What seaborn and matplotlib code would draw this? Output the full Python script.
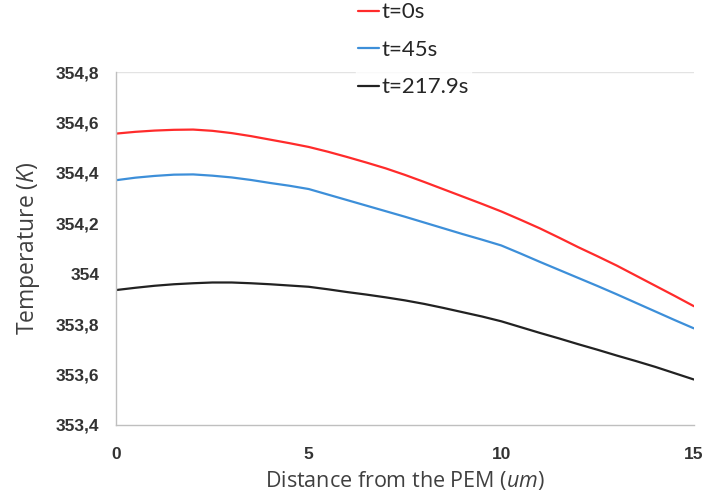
import matplotlib
matplotlib.use('Agg')
import matplotlib.pyplot as plt
import seaborn as sns
import pandas as pd
from matplotlib.ticker import FuncFormatter

# Data
distance = [0, 0.5, 1, 1.5, 2, 2.5, 3, 3.5, 4, 4.5, 5, 5.5, 6, 6.5, 7, 7.5,
            8, 8.5, 9, 9.5, 10, 10.5, 11, 11.5, 12, 12.5, 13, 13.5, 14, 14.5, 15]
temp_0s = [354.556, 354.563, 354.568, 354.571, 354.572, 354.567, 354.558, 354.546,
           354.532, 354.518, 354.503, 354.484, 354.463, 354.441, 354.418, 354.392,
           354.364, 354.335, 354.306, 354.277, 354.247, 354.214, 354.180, 354.143,
           354.105, 354.069, 354.032, 353.992, 353.952, 353.912, 353.871]
temp_45s = [354.371, 354.381, 354.388, 354.393, 354.394, 354.389, 354.382, 354.372,
            354.360, 354.349, 354.336, 354.314, 354.292, 354.270, 354.248, 354.226,
            354.203, 354.180, 354.157, 354.135, 354.112, 354.080, 354.047, 354.015,
            353.983, 353.951, 353.918, 353.884, 353.850, 353.816, 353.783]
temp_217s = [353.935, 353.944, 353.952, 353.958, 353.962, 353.965, 353.965, 353.962,
             353.958, 353.953, 353.948, 353.938, 353.927, 353.917, 353.906, 353.894,
             353.880, 353.864, 353.847, 353.830, 353.811, 353.788, 353.765, 353.743,
             353.720, 353.698, 353.675, 353.653, 353.630, 353.605, 353.580]
series_labels = ['t=0s', 't=45s', 't=217.9s']
series_colors = ['#ff2b2b', '#3d8fd9', '#222222']

df = pd.concat([
    pd.DataFrame({'Distance': distance, 'Temperature': vals, 'Time': lab})
    for vals, lab in zip([temp_0s, temp_45s, temp_217s], series_labels)
])

sns.set_style('white')
plt.rcParams['font.family'] = ['Open Sans', 'DejaVu Sans']
plt.rcParams['mathtext.fontset'] = 'custom'
plt.rcParams['mathtext.it'] = 'Open Sans:italic'
plt.rcParams['mathtext.rm'] = 'Open Sans'

fig = plt.figure(figsize=(7.08, 4.94), dpi=100)
ax = fig.add_axes([0.164, 0.140, 0.816, 0.714])

sns.lineplot(data=df, x='Distance', y='Temperature', hue='Time',
             palette=dict(zip(series_labels, series_colors)), linewidth=1.6, ax=ax)

# light top gridline (Excel style)
ax.axhline(354.8, color='#e3e3e3', linewidth=1, zorder=0)

ax.set_xlim(0, 15)
ax.set_ylim(353.4, 354.8)
ax.set_xticks([0, 5, 10, 15])
ax.set_yticks([353.4, 353.6, 353.8, 354.0, 354.2, 354.4, 354.6, 354.8])
ax.yaxis.set_major_formatter(FuncFormatter(lambda v, p: f"{round(v, 1):g}".replace('.', ',')))

for side in ['top', 'right']:
    ax.spines[side].set_visible(False)
for side in ['left', 'bottom']:
    ax.spines[side].set_color('#bfbfbf')
    ax.spines[side].set_linewidth(1)

ax.tick_params(axis='both', direction='out', length=5, width=1, color='#bfbfbf',
               labelsize=12.5, labelcolor='#333333')
ax.tick_params(axis='x', pad=11)
ax.tick_params(axis='y', pad=7)
for lbl in ax.get_xticklabels() + ax.get_yticklabels():
    lbl.set_fontfamily(['Liberation Sans', 'DejaVu Sans'])
    lbl.set_fontweight('bold')

ax.set_xlabel('Distance from the PEM ($\\it{um}$)', fontsize=15.5, color='#404040', labelpad=5)
ax.set_ylabel('Temperature ($\\it{K}$)', fontsize=16.5, color='#404040', labelpad=10)

leg = ax.legend(loc='upper left', bbox_to_anchor=(0.503, 1.0), bbox_transform=fig.transFigure,
                frameon=True, fontsize=15, handlelength=1.0, handletextpad=0.1,
                labelspacing=0.85, borderpad=0.1, borderaxespad=0)
leg.get_frame().set_facecolor('white')
leg.get_frame().set_edgecolor('white')
for h in leg.get_lines():
    h.set_linewidth(1.6)
for t in leg.get_texts():
    t.set_fontfamily(['Lato', 'DejaVu Sans'])
    t.set_fontsize(16)

fig.savefig('out.png', dpi=100)
